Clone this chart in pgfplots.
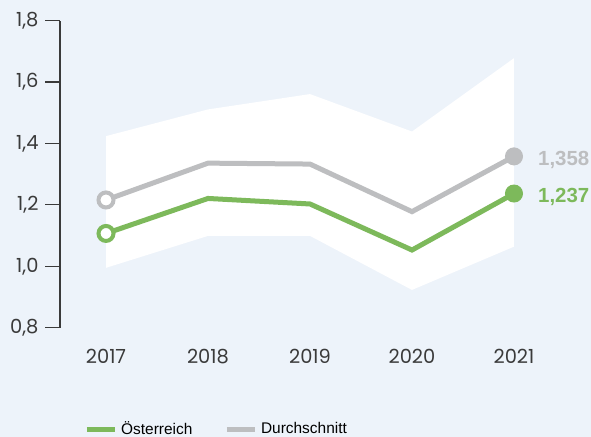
\documentclass[border=0pt]{standalone}
\usepackage{fontspec}
\usepackage{pgfplots}
\pgfplotsset{compat=1.18}
\setmainfont{Poppins}
\newfontfamily\lab{Liberation Sans}
\definecolor{bg}{HTML}{EDF3FA}
\definecolor{grn}{HTML}{7DB95B}
\definecolor{gry}{HTML}{BDBEC0}
\definecolor{axc}{HTML}{3A3A3A}
\begin{document}
\begin{tikzpicture}
\useasboundingbox (0,0) rectangle (591bp,437bp);
\fill[bg] (0,0) rectangle (591bp,437bp);
\begin{axis}[
  at={(60bp,109.3bp)}, anchor=south west,
  scale only axis, width=531bp, height=307bp,
  xmin=2016.549, xmax=2021.755, ymin=0.8, ymax=1.8,
  clip=false,
  axis lines=left, axis line style={-, axc, line width=1.2bp},
  x axis line style={draw=none},
  xtick={2017,2018,2019,2020,2021},
  xticklabels={2017,2018,2019,2020,2021},
  x tick style={draw=none},
  ytick={0.8,1.0,1.2,1.4,1.6,1.8},
  y tick style={axc, line width=1.2bp},
  tick align=outside, major tick length=15bp,
  ticklabel style={font=\fontsize{19.5}{19.5}\selectfont, text=axc},
  yticklabel style={xshift=-3bp, /pgf/number format/.cd, fixed, fixed zerofill, precision=1, use comma, assume math mode=true},
  xticklabel style={anchor=base, yshift=-20.5bp},
  legend style={at={(0.0457,-0.33)}, anchor=west, draw=none, fill=none, inner sep=0pt,
    font=\lab\fontsize{15.5}{15.5}\selectfont, legend columns=2,
    /tikz/every even column/.append style={column sep=30bp}},
  legend image code/.code={\draw[#1, line width=5bp] (0bp,0bp) -- (28bp,0bp); \path (32bp,0bp);},
]
\addplot[fill=white, draw=none, forget plot] coordinates {
  (2017,1.424) (2018,1.511) (2019,1.561) (2020,1.439) (2021,1.678)
  (2021,1.064) (2020,0.923) (2019,1.099) (2018,1.099) (2017,0.995)} -- cycle;
\addplot[gry, line width=5bp, forget plot] coordinates {
  (2017,1.216) (2018,1.336) (2019,1.333) (2020,1.178) (2021,1.358)};
\addplot[grn, line width=5bp, forget plot] coordinates {
  (2017,1.107) (2018,1.221) (2019,1.203) (2020,1.053) (2021,1.237)};
\addplot[only marks, mark=*, mark size=7.5bp, mark options={fill=white, draw=gry, line width=4bp}, forget plot] coordinates {(2017,1.216)};
\addplot[only marks, mark=*, mark size=7.5bp, mark options={fill=white, draw=grn, line width=4bp}, forget plot] coordinates {(2017,1.107)};
\addplot[only marks, mark=*, mark size=8.5bp, mark options={fill=gry, draw=gry, line width=1bp}, forget plot] coordinates {(2021,1.358)};
\addplot[only marks, mark=*, mark size=8.5bp, mark options={fill=grn, draw=grn, line width=1bp}, forget plot] coordinates {(2021,1.237)};
\node[anchor=base west, inner sep=0pt, xshift=24bp, yshift=-9.4bp, text=gry, font=\lab\bfseries\fontsize{20.5}{20.5}\selectfont] at (axis cs:2021,1.358) {1,358};
\node[anchor=base west, inner sep=0pt, xshift=24bp, yshift=-9.4bp, text=grn, font=\lab\bfseries\fontsize{20.5}{20.5}\selectfont] at (axis cs:2021,1.237) {1,237};
\addlegendimage{grn}
\addlegendentry{Österreich}
\addlegendimage{gry}
\addlegendentry{Durchschnitt}
\end{axis}
\end{tikzpicture}
\end{document}
